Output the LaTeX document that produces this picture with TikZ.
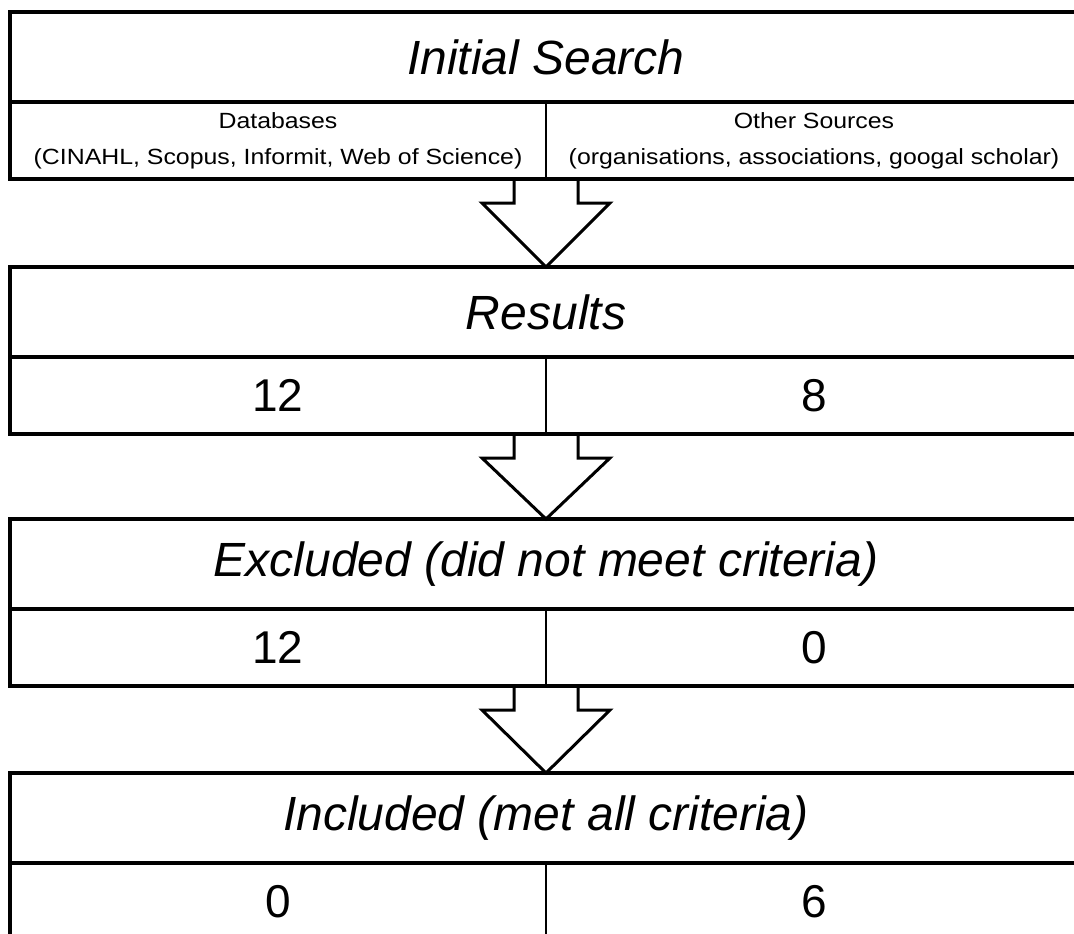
\documentclass[tikz,border=0pt]{standalone}
\usepackage{fontspec}
\setmainfont{Liberation Sans}
\newfontfamily\widesans[FakeStretch=1.13]{Liberation Sans}
\usetikzlibrary{positioning}
\tikzset{
  frame/.style={draw=black, line width=4.5pt},
  divider/.style={draw=black, line width=2.5pt},
  blockarrow/.style={draw=black, fill=white, line width=3pt, line join=miter},
}

\begin{document}
\begin{tikzpicture}[
  x=1pt, y=1pt,
  head/.style={rectangle, inner sep=0pt, outer sep=0pt, minimum width=1072pt, minimum height=90pt,
               align=center, font=\fontsize{48}{56}\selectfont\itshape},
  cell/.style={rectangle, inner sep=0pt, outer sep=0pt, minimum width=536pt, minimum height=77pt,
               align=center, font=\fontsize{46}{54}\selectfont},
  src/.style={font=\widesans\fontsize{22}{36}\selectfont},
]
\useasboundingbox (0,0) rectangle (1074,-934);
\clip (0,0) rectangle (1074,-934);
% stage headers
\node[head] (srch-hd) at (546,-57)  {Initial Search};
\node[head] (rslt-hd) at (546,-312) {Results};
\node[head] (excl-hd) at (546,-564) {Excluded (did not meet criteria)};
\node[head] (incl-hd) at (546,-818) {Included (met all criteria)};
% sources
\node[cell, src, anchor=north west] (srch-l) at (srch-hd.south west) {Databases\\(CINAHL, Scopus, Informit, Web of Science)};
\node[cell, src, anchor=north east] (srch-r) at (srch-hd.south east) {Other Sources\\(organisations, associations, googal scholar)};
% counts
\node[cell, anchor=north west] (rslt-l) at (rslt-hd.south west) {12};
\node[cell, anchor=north east] (rslt-r) at (rslt-hd.south east) {8};
\node[cell, anchor=north west] (excl-l) at (excl-hd.south west) {12};
\node[cell, anchor=north east] (excl-r) at (excl-hd.south east) {0};
\node[cell, anchor=north west] (incl-l) at (incl-hd.south west) {0};
\node[cell, anchor=north east] (incl-r) at (incl-hd.south east) {6};
% block arrows
\foreach \a/\b in {srch/rslt, rslt/excl, excl/incl}
  \draw[blockarrow] ([xshift=-32pt]\a-l.south east) -- ([xshift=-32pt, yshift=-24pt]\a-l.south east)
    -- ([xshift=-64pt, yshift=-24pt]\a-l.south east) -- (\b-hd.north)
    -- ([xshift=64pt, yshift=-24pt]\a-l.south east) -- ([xshift=32pt, yshift=-24pt]\a-l.south east)
    -- ([xshift=32pt]\a-l.south east);
% frames
\foreach \s in {srch, rslt, excl, incl} {
  \draw[frame] (\s-hd.north west) rectangle (\s-r.south east);
  \draw[frame] (\s-hd.south west) -- (\s-hd.south east);
  \draw[divider] (\s-l.north east) -- (\s-l.south east);
}
\end{tikzpicture}
\end{document}
